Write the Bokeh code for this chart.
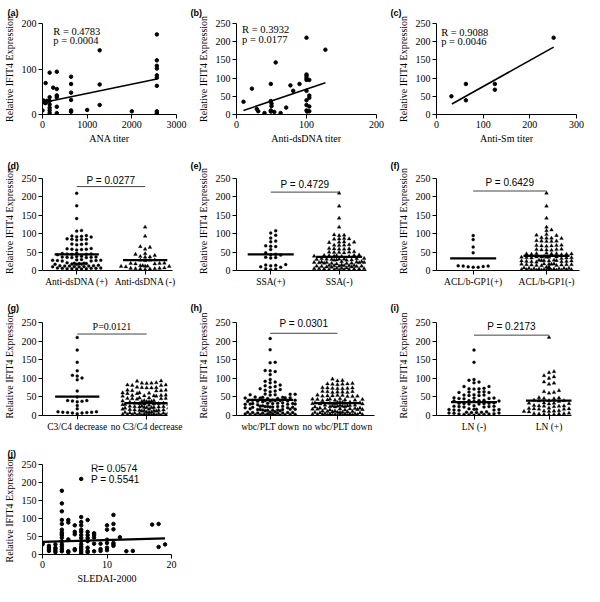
import numpy as np
from bokeh.plotting import figure
from bokeh.models import Range1d, FixedTicker, Label, Title
from bokeh.layouts import column, row
from bokeh.embed import file_html
from bokeh.resources import INLINE

SERIF = "Liberation Serif"
SANS = "Liberation Sans"
YLAB = "Relative IFIT4 Expression"

# ---------------- (a) ANA titer ----------------
ana_titer = [0, 20, 40, 60, 80, 100, 70,
             160, 160, 160, 160, 160, 160, 160,
             240,
             320, 320, 320, 320, 320, 320,
             640, 640, 640, 640, 640, 640,
             1000,
             1280, 1280, 1280,
             2000,
             2560, 2560, 2560, 2560, 2560, 2560, 2560, 2560, 2560, 2560]
ana_expr = [9, 31, 28, 25, 27, 30, 69,
            92, 38, 30, 22, 15, 9, 3,
            59,
            94, 56, 42, 38, 17, 3,
            83, 67, 48, 32, 9, 6,
            10,
            141, 66, 21,
            7,
            176, 119, 107, 101, 86, 81, 63, 7, 3, 1]
ana_fit_x = [100, 2560]
ana_fit_y = [28, 78]
ana_stats = ["R = 0.4783", "p = 0.0004"]

# ---------------- (b) Anti-dsDNA titer ----------------
ds_titer = [10, 22, 29, 31, 40, 49, 49, 50, 50, 49, 49, 56, 54, 63, 71, 77, 81, 90,
            100, 100, 100, 100, 100, 100, 100, 100, 100, 101, 104, 104, 104, 104, 104, 127]
ds_expr = [35, 71, 15, 9, 4, 84, 37, 30, 23, 11, 8, 143, 7, 4, 19, 80, 65, 84,
           211, 110, 106, 100, 95, 65, 39, 26, 11, 8, 95, 52, 46, 22, 9, 178]
ds_fit_x = [10, 127]
ds_fit_y = [11, 87]
ds_stats = ["R = 0.3932", "p = 0.0177"]

# ---------------- (c) Anti-Sm titer ----------------
sm_titer = [32, 63, 63, 125, 125, 251]
sm_expr = [50, 84, 39, 84, 68, 211]
sm_fit_x = [33, 251]
sm_fit_y = [29, 185]
sm_stats = ["R = 0.9088", "p = 0.0046"]

# ---------------- (d) anti-dsDNA groups ----------------
d_labels = ["Anti-dsDNA (+)", "Anti-dsDNA (-)"]
d_g1 = [210, 176, 141, 109, 107,
        95, 94, 93, 92, 91,
        86, 85, 85, 84, 83,
        73, 72, 71, 70,
        60, 59, 58, 58, 57, 56,
        47, 46, 45, 45, 44, 44, 43,
        39, 38, 37, 37, 36, 36, 35, 35,
        30, 29, 28, 28, 27, 27, 26, 26,
        21, 20, 20, 19, 19, 18, 18, 17, 17,
        14, 13, 13, 12, 12, 12, 11, 11, 10, 10,
        7, 7, 6, 6, 6, 5, 5, 5, 4, 4]
d_g2 = [118, 93, 65, 63, 58, 46, 44, 41, 38, 37, 36,
        29, 28, 28, 27,
        20, 19, 19, 18, 18,
        13, 13, 12, 12, 11, 11, 10,
        7, 6, 6, 5, 5, 4, 4, 3]
d_means = [44, 28]
d_p = "P = 0.0277"

# ---------------- (e) SSA ----------------
e_labels = ["SSA(+)", "SSA(-)"]
e_g1 = [108, 102, 96, 88, 80, 78, 67, 66, 65, 57, 48, 44, 43, 42, 36, 35, 34,
        16, 15, 14, 13, 10, 9, 5, 4, 2]
e_g2 = [210, 175, 142, 118,
        97, 96, 95,
        87, 86, 86, 85,
        78, 77, 77, 76,
        70, 69, 69, 68,
        60, 59, 59, 58, 58,
        51, 50, 50, 49, 49, 48,
        42, 41, 41, 40, 40, 39, 39, 38, 38,
        33, 32, 32, 31, 31, 31, 30, 30, 29, 29, 28, 28,
        24, 24, 23, 23, 22, 22, 22, 21, 21, 20, 20, 19, 19, 18,
        15, 14, 14, 13, 13, 13, 12, 12, 12, 11, 11, 10, 10, 9,
        7, 6, 6, 5, 5, 5, 4, 4, 4, 3, 3, 2, 2, 1]
e_means = [44, 37]
e_p = "P = 0.4729"

# ---------------- (f) ACL/b-GP1 ----------------
f_labels = ["ACL/b-GP1(+)", "ACL/b-GP1(-)"]
f_g1 = [95, 84, 64, 48, 13, 12, 11, 10, 9, 9, 12]
f_g2 = [210, 175, 142, 118, 110, 108,
        98, 96, 95,
        89, 88, 88, 87,
        81, 80, 80, 79, 79,
        69, 68, 68, 67, 67, 66,
        58, 57, 57, 56, 56, 55,
        47, 46, 46, 45, 45, 45, 44, 44, 43,
        38, 37, 37, 37, 36, 36, 36, 35, 35, 34, 34, 33,
        28, 28, 27, 27, 27, 26, 26, 26, 25, 25, 24, 24, 23,
        18, 18, 17, 17, 17, 16, 16, 16, 15, 15, 14, 14, 13,
        9, 8, 8, 7, 7, 7, 6, 6, 6, 5, 5, 4, 4,
        3, 3, 2, 2, 2, 2, 1, 1, 1, 1, 1, 0.5, 0.5]
f_means = [33, 40]
f_p = "P = 0.6429"

# ---------------- (g) C3/C4 ----------------
g_labels = ["C3/C4 decrease", "no C3/C4 decrease"]
g_g1 = [210, 176, 143, 120, 108, 106, 101, 96, 66, 50, 40, 40, 39, 38, 37, 27, 18,
        10, 10, 9, 9, 8, 8, 7, 7, 5]
g_g2 = [93, 92,
        88, 87, 87, 86,
        82, 82, 81, 81,
        76, 75, 75, 74, 74,
        68, 68, 67, 67, 66,
        61, 61, 60, 60, 59, 59,
        55, 54, 54, 53, 53, 52, 52,
        48, 47, 47, 46, 46, 45, 45, 44,
        40, 40, 39, 39, 38, 38, 37, 37, 36,
        33, 33, 32, 32, 31, 31, 30, 30, 29, 29, 28,
        25, 25, 24, 24, 23, 23, 22, 22, 21, 21, 20, 20,
        17, 17, 16, 16, 15, 15, 14, 14, 13, 13, 12, 12,
        9, 9, 8, 8, 7, 7, 6, 6, 5, 5, 4, 4,
        3, 3, 2, 2, 2, 2, 1, 1, 1, 1, 0.5, 0.5]
g_means = [51, 33]
g_p = "P=0.0121"

# ---------------- (h) wbc/PLT ----------------
h_labels = ["wbc/PLT down", "no wbc/PLT down"]
h_g1 = [207, 177, 143, 142, 121, 120, 118, 110, 97, 92, 90, 88, 82, 80, 78, 76, 72, 70, 68, 66, 64,
        58, 57, 57, 56, 56, 55,
        50, 49, 49, 48, 48, 47, 47, 46, 46,
        42, 41, 41, 40, 40, 40, 39, 39, 38, 38, 37,
        34, 33, 33, 32, 32, 32, 31, 31, 30, 30, 29,
        26, 25, 25, 24, 24, 24, 23, 23, 22, 22, 21, 21,
        18, 17, 17, 16, 16, 16, 15, 15, 14, 14, 13, 13,
        10, 9, 9, 8, 8, 8, 7, 7, 6, 6, 5, 5,
        4, 3, 3, 3, 2, 2, 2, 1, 1, 1, 0.5]
h_g2 = [98, 94, 93,
        86, 85, 85, 84, 84, 83,
        75, 74, 74, 73, 73, 72, 72,
        65, 64, 64, 63, 63, 62, 62,
        55, 54, 54, 53, 53, 52, 52, 51, 51,
        45, 44, 44, 43, 43, 42, 42, 41, 41, 40,
        36, 36, 35, 35, 34, 34, 33, 33, 32, 32, 31, 31,
        28, 28, 27, 27, 26, 26, 25, 25, 24, 24, 23, 23,
        20, 20, 19, 19, 18, 18, 17, 17, 16, 16, 15, 15,
        12, 12, 11, 11, 10, 10, 9, 9, 8, 8, 7, 7,
        5, 5, 4, 4, 4, 3, 3, 3, 2, 2, 2, 1,
        2, 1, 1, 1, 0.5, 0.5]
h_means = [42, 33]
h_p = "P = 0.0301"

# ---------------- (i) LN ----------------
i_labels = ["LN (-)", "LN (+)"]
i_g1 = [176, 143, 97, 95, 90, 88, 78, 78,
        73, 72, 72, 71,
        64, 63, 63, 62, 62,
        56, 55, 55, 54, 54,
        48, 47, 47, 46, 46, 45,
        41, 40, 40, 39, 39, 38,
        34, 33, 33, 32, 32, 31, 31,
        26, 25, 25, 24, 24, 23, 23,
        18, 17, 17, 16, 16, 15, 15, 14,
        10, 9, 9, 8, 8, 7, 7, 6,
        5, 4, 4, 3, 3, 2, 2, 1]
i_g2 = [210, 118, 115, 107, 104, 100, 90, 87, 84, 67, 64, 62, 60,
        48, 47, 46, 45,
        41, 40, 40, 39, 38,
        34, 33, 33, 32, 31,
        27, 26, 26, 25, 25, 24,
        20, 19, 19, 18, 18, 17, 17,
        13, 12, 12, 11, 11, 10, 10,
        6, 5, 5, 4, 4, 3, 3, 2]
i_means = [36, 40]
i_p = "P = 0.2173"

# ---------------- (j) SLEDAI-2000 ----------------
sle_score = [0, 0,
             1, 1, 1, 1,
             2, 2, 2, 2, 2,
             3, 3, 3, 3, 3, 3, 3, 3, 3, 3, 3, 3, 3, 3, 3,
             4, 4, 4, 4, 4,
             5, 5, 5, 5, 5,
             6, 6, 6, 6, 6, 6, 6, 6, 6, 6, 6, 6, 6, 6,
             7, 7, 7, 7, 7, 7, 7, 7,
             8, 8, 8, 8, 8,
             9, 9, 9,
             10, 10, 10, 10, 10, 10,
             11, 11, 11, 11, 11, 11,
             12, 13, 14, 17, 18, 18, 19]
sle_expr = [32, 28,
            24, 19, 15, 10,
            28, 19, 15, 10, 6,
            177, 142, 120, 96, 85, 69, 61, 57, 54, 47, 37, 28, 22, 15, 9,
            96, 89, 42, 9, 6,
            81, 63, 56, 15, 12,
            210, 104, 90, 81, 69, 63, 54, 46, 37, 28, 21, 15, 9, 4,
            96, 63, 54, 46, 37, 19, 10, 6,
            59, 54, 47, 30, 9,
            30, 15, 10,
            81, 69, 41, 32, 19, 12,
            110, 85, 70, 32, 28, 24,
            48, 9, 10, 83, 85, 21, 28]
sle_fit_x = [0, 19]
sle_fit_y = [35, 45]
sle_stats = ["R= 0.0574", "P = 0.5541"]

DOT_TICKS = [0, 50, 100, 150, 200, 250]


def make_fig(w, h, left, right, top, bottom, xr, yr, xticks, yticks, xlabel=None,
             xlab_size="10px"):
    p = figure(width=w, height=h, x_range=Range1d(*xr), y_range=Range1d(*yr),
               output_backend="svg", toolbar_location=None, title=None,
               min_border_left=left, min_border_right=right,
               min_border_top=top, min_border_bottom=bottom)
    p.grid.visible = False
    p.outline_line_color = None
    p.background_fill_color = "white"
    p.border_fill_color = "white"
    p.xaxis.ticker = FixedTicker(ticks=xticks)
    p.yaxis.ticker = FixedTicker(ticks=yticks)
    p.axis.axis_line_color = "black"
    p.axis.axis_line_width = 1
    p.axis.major_tick_line_color = "black"
    p.axis.major_tick_in = 0
    p.axis.major_tick_out = 4
    p.axis.minor_tick_line_color = None
    p.axis.major_label_text_font = SERIF
    p.axis.major_label_text_color = "black"
    p.axis.major_label_standoff = 2
    p.yaxis.major_label_text_font_size = "10px"
    p.xaxis.major_label_text_font_size = xlab_size
    p.axis.axis_label_text_font = SERIF
    p.axis.axis_label_text_font_style = "normal"
    p.axis.axis_label_text_color = "black"
    p.axis.axis_label_text_font_size = "10px"
    p.yaxis.axis_label = YLAB
    p.yaxis.axis_label_standoff = 4
    p.xaxis.axis_label_standoff = 2
    if xlabel:
        p.xaxis.axis_label = xlabel
    return p


def letter(p, text, off, standoff):
    p.title = Title(text=text, align="left", offset=off, standoff=standoff,
                    text_font=SANS, text_font_style="bold", text_font_size="9px",
                    text_color="black")


def stats_text(p, lines, x, ys, font, size="10.5px"):
    for t, y in zip(lines, ys):
        p.add_layout(Label(x=x, y=y, text=t, text_font=font, text_font_size=size,
                           text_baseline="middle", text_align="left", text_color="black"))


def swarm_offsets(vals, px_y, step=5.0, dmin=3.0, max_px=26.0):
    vals = np.asarray(vals, float)
    order = np.argsort(vals, kind="stable")
    k_max = int(max_px // step)
    cands = [0.0]
    for k in range(1, k_max + 1):
        cands += [k * step, -k * step]
    half = []
    for k in range(k_max):
        half += [(k + 0.5) * step, -(k + 0.5) * step]
    px_, py_ = [], []
    off = np.zeros(len(vals))
    for i in order:
        py = vals[i] * px_y
        near = [qx for qx, qy in zip(px_, py_) if abs(qy - py) < dmin]
        chosen = None
        for c in cands:
            md = min([abs(q - c) for q in near], default=1e9)
            if md >= step * 0.9:
                chosen = c
                break
        if chosen is None:
            best, bs = 0.0, -1.0
            for c in half + cands:
                md = min([abs(q - c) for q in near], default=1e9)
                if md > bs:
                    bs, best = md, c
            chosen = best
        px_.append(chosen)
        py_.append(py)
        off[i] = chosen
    return off


def dot_panel(w, h, left, right, top, bottom, R, labels, g1, g2, means, ptxt,
              br_y, pt_y, ptfont, name, loff, lstand, xlab_size="9.5px", extra_px=7):
    # frame height that holds 0..250, then extend the range upward by extra_px
    f250 = h - top - bottom
    ymax = 250.0 * (f250 + extra_px) / f250
    p = make_fig(w, h, left, right, top - extra_px, bottom, (0, R), (0, ymax), [1, 3],
                 DOT_TICKS, xlab_size=xlab_size)
    p.yaxis.bounds = (0, 250)
    p.xaxis.major_label_overrides = {1: labels[0], 3: labels[1]}
    fw = w - left - right
    ppx = fw / R
    ppy = f250 / 250.0
    for center, vals, marker, size in ((1, g1, "circle", 3.0), (3, g2, "triangle", 3.8)):
        off = swarm_offsets(vals, ppy)
        xs = center + off / ppx
        p.scatter(xs, vals, marker=marker, size=size, fill_color="black",
                  line_color="black", line_width=0.3)
    hw = 23.0 / ppx
    p.segment(x0=[1 - hw, 3 - hw], x1=[1 + hw, 3 + hw], y0=means, y1=means,
              line_color="black", line_width=2.2)
    p.segment(x0=[1], x1=[3], y0=[br_y], y1=[br_y], line_color="#444444", line_width=1)
    p.add_layout(Label(x=2, y=pt_y, text=ptxt, text_font=ptfont, text_font_size="10px",
                       text_align="center", text_baseline="middle", text_color="black"))
    letter(p, name, loff, lstand)
    return p


# ---------------- Row 1 ----------------
pa = make_fig(188, 146, 37, 12, 22, 31, (0, 3000), (0, 200), [0, 1000, 2000, 3000],
              [0, 100, 200], xlabel="ANA titer")
pa.scatter(ana_titer, ana_expr, marker="circle", size=3.5, color="black")
pa.line(ana_fit_x, ana_fit_y, line_color="black", line_width=1.6)
stats_text(pa, ana_stats, 242, [183, 162], SERIF)
letter(pa, "(a)", -35, 11)

pb = make_fig(198, 146, 48, 10, 22, 31, (0, 200), (0, 250), [0, 100, 200], DOT_TICKS,
              xlabel="Anti-dsDNA titer")
pb.scatter(ds_titer, ds_expr, marker="circle", size=3.5, color="black")
pb.line(ds_fit_x, ds_fit_y, line_color="black", line_width=1.6)
stats_text(pb, ds_stats, 8, [234, 207], SERIF)
letter(pb, "(b)", -46, 11)

pc = make_fig(198, 146, 50, 8, 22, 31, (0, 300), (0, 250), [0, 100, 200, 300], DOT_TICKS,
              xlabel="Anti-Sm titer")
pc.scatter(sm_titer, sm_expr, marker="circle", size=3.5, color="black")
pc.line(sm_fit_x, sm_fit_y, line_color="black", line_width=1.6)
stats_text(pc, sm_stats, 10, [224, 200], SERIF)
letter(pc, "(c)", -46, 11)

# ---------------- Row 2 ----------------
pd_ = dot_panel(188, 146, 37, 16, 32, 22, 3.8, d_labels, d_g1, d_g2, d_means, d_p,
                228, 245, SANS, "(d)", -35, 1)
pe = dot_panel(198, 146, 48, 20, 32, 22, 3.8, e_labels, e_g1, e_g2, e_means, e_p,
               213, 234, SANS, "(e)", -46, 1)
pf = dot_panel(198, 146, 50, 5, 32, 22, 3.9, f_labels, f_g1, f_g2, f_means, f_p,
               216, 238, SANS, "(f)", -46, 1)

# ---------------- Row 3 ----------------
pg = dot_panel(188, 146, 37, 21, 30, 23, 3.6, g_labels, g_g1, g_g2, g_means, g_p,
               219, 239, SERIF, "(g)", -35, 5)
ph = dot_panel(198, 146, 48, 12, 30, 23, 4.1, h_labels, h_g1, h_g2, h_means, h_p,
               221, 247, SANS, "(h)", -46, 5)
pi = dot_panel(198, 146, 50, 13, 30, 23, 3.6, i_labels, i_g1, i_g2, i_means, i_p,
               216, 240, SANS, "(i)", -46, 5)

# ---------------- Row 4 ----------------
pj = make_fig(188, 148, 37, 17, 26, 32, (0, 20), (0, 250), [0, 10, 20], DOT_TICKS,
              xlabel="SLEDAI-2000")
pj.scatter(sle_score, sle_expr, marker="circle", size=3.5, color="black")
pj.line(sle_fit_x, sle_fit_y, line_color="black", line_width=2.2)
stats_text(pj, sle_stats, 7.5, [240, 208], SANS, size="10px")
letter(pj, "(j)", -35, 12)

layout = column(row(pa, pb, pc), row(pd_, pe, pf), row(pg, ph, pi), row(pj))

open("out.html", "w").write(file_html(layout, INLINE))
